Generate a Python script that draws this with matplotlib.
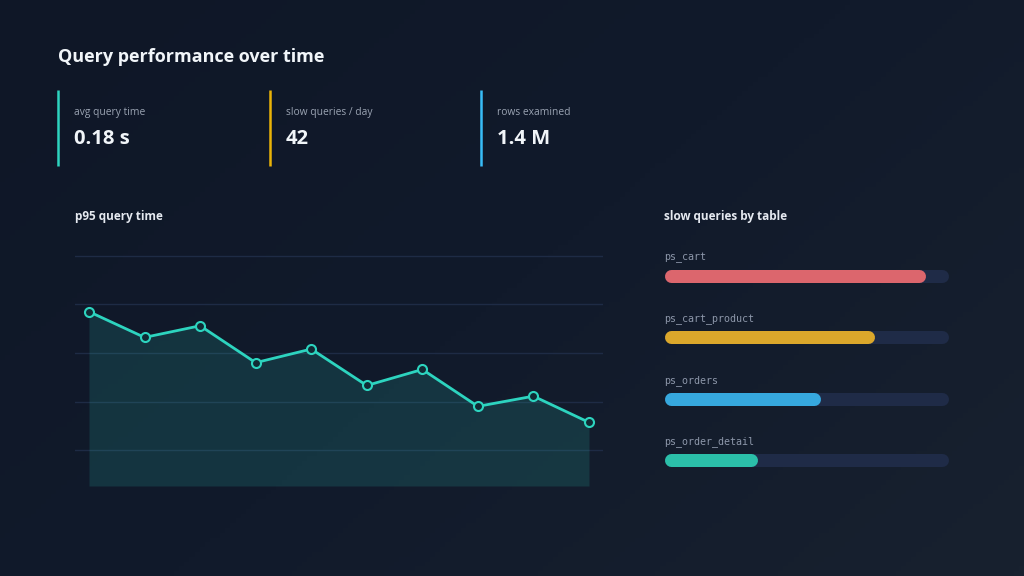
import numpy as np
import matplotlib.pyplot as plt
from matplotlib.colors import LinearSegmentedColormap

plt.rcParams['font.family'] = ['Open Sans', 'DejaVu Sans']

# data
kpi_labels = ["avg query time", "slow queries / day", "rows examined"]
kpi_values = ["0.18 s", "42", "1.4 M"]
kpi_colors = ["#2dd4bf", "#eab308", "#38bdf8"]

p95_ms = [385, 332, 356, 280, 308, 233, 266, 190, 211, 157]

tables = ["ps_cart", "ps_cart_product", "ps_orders", "ps_order_detail"]
slow_pct = [92, 74, 55, 33]
bar_colors = ["#dc666d", "#dba72b", "#36a8de", "#2bbfa9"]

W, H = 1024, 576
fig = plt.figure(figsize=(W / 100, H / 100), dpi=100)


def px(x, y):
    return x / W, 1 - y / H


# background gradient
bg = fig.add_axes([0, 0, 1, 1])
cmap = LinearSegmentedColormap.from_list("bg", ["#0f1727", "#111a2b", "#18212f"])
gx, gy = np.meshgrid(np.linspace(0, 1, 200), np.linspace(0, 1, 120))
bg.imshow(gx * 0.6 + gy * 0.4, cmap=cmap, aspect="auto", extent=[0, 1, 0, 1], origin="upper")
bg.set_axis_off()

fig.text(*px(58, 62), "Query performance over time", color="#f1f5f9",
         fontsize=13, fontweight="bold", va="baseline")

# KPI cards
kpi_x = [58, 270, 481]
for x, lab, val, col in zip(kpi_x, kpi_labels, kpi_values, kpi_colors):
    bg.plot([x / W, x / W], [1 - 90 / H, 1 - 166 / H], color=col, lw=1.8,
            solid_capstyle="butt", transform=bg.transAxes)
    fig.text(*px(x + 16, 115), lab, color="#9aa3b2", fontsize=7.4, va="baseline")
    fig.text(*px(x + 16, 144), val, color="#f1f5f9", fontsize=14.5,
             fontweight="bold", va="baseline")

# p95 line chart
fig.text(*px(75, 220), "p95 query time", color="#e5e9f0", fontsize=8.5,
         fontweight="bold", va="baseline")
ax = fig.add_axes([75 / W, 1 - 486 / H, 528 / W, 236 / H])
ax.set_facecolor("none")
xs = np.arange(len(p95_ms))
ymin = 26
ax.set_xlim(-0.252, len(xs) - 1 + 0.252)
ax.set_ylim(ymin, 512)
for gy_ in [100, 200, 300, 400, 500]:
    ax.axhline(gy_, color="#1e2b45", lw=1, zorder=0)
ax.fill_between(xs, p95_ms, ymin, color="#2dd4bf", alpha=0.15, lw=0, zorder=1)
ax.plot(xs, p95_ms, color="#2dd4bf", lw=2, marker="o", ms=6.5,
        mfc="#112a34", mec="#2dd4bf", mew=1.5, zorder=3)
ax.set_axis_off()

# slow queries by table
fig.text(*px(664, 220), "slow queries by table", color="#e5e9f0", fontsize=8.5,
         fontweight="bold", va="baseline")
bx = fig.add_axes([664 / W, 1 - 490.6 / H, 284 / W, 245.2 / H])
bx.set_facecolor("none")
bx.set_xlim(0, 100)
bx.set_ylim(len(tables) - 0.5, -0.5)
bar_px = 13
r = bar_px / 2 / 284 * 100
lw_pt = bar_px * 72 / 100
for i, (t, v, c) in enumerate(zip(tables, slow_pct, bar_colors)):
    bx.plot([r, 100 - r], [i, i], color="#1f2b47", lw=lw_pt,
            solid_capstyle="round", clip_on=False, zorder=1)
    bx.plot([r, v - r], [i, i], color=c, lw=lw_pt,
            solid_capstyle="round", clip_on=False, zorder=2)
    bx.text(0, i - 0.26, t, color="#8d97aa", fontsize=7.2,
            family="DejaVu Sans Mono", va="baseline")
bx.set_axis_off()

fig.savefig("out.png", dpi=100)
